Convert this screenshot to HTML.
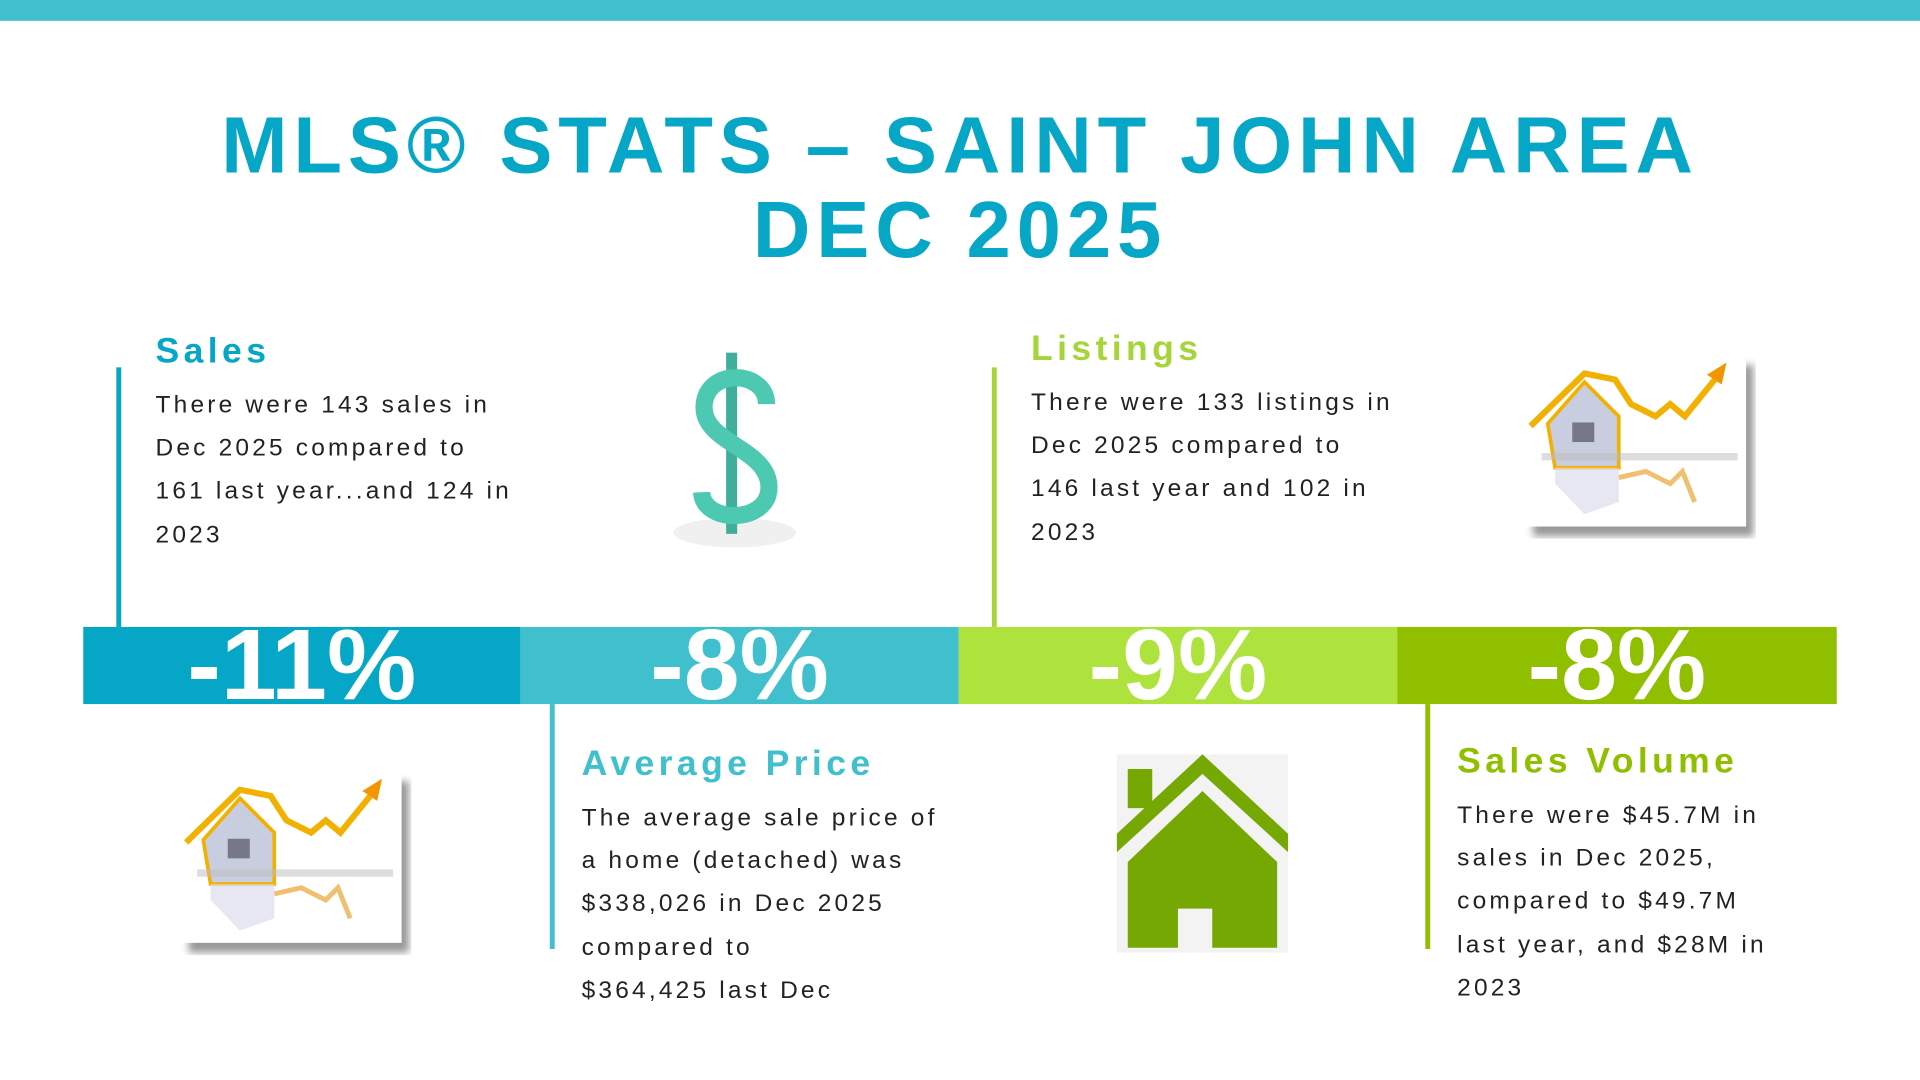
<!DOCTYPE html>
<html><head><meta charset="utf-8"><style>
html,body{margin:0;padding:0;background:#fff;overflow:hidden;width:1920px;height:1080px}
#w{position:absolute;left:0;top:0;width:1568px;height:882px;transform:scale(1.22449);transform-origin:0 0;font-family:"Liberation Sans",sans-serif}
.a{position:absolute}
.t{position:absolute;left:0;width:1568px;text-align:center;color:#06a6c6;font-weight:bold;font-size:65px;letter-spacing:4.8px;line-height:70px}
.h{position:absolute;font-weight:bold;font-size:29px;letter-spacing:3.6px;line-height:34px}
.b{position:absolute;font-size:20px;letter-spacing:2.6px;line-height:35.2px;color:#222}
.v{position:absolute;width:4px}
.seg{position:absolute;top:512px;height:63px;overflow:hidden;color:#fff;font-weight:bold;font-size:82px;text-align:center;line-height:63px}
.seg span{position:relative;top:0px;letter-spacing:0px}
</style></head><body><div id="w">
<div class="a" style="left:0;top:0;width:1568px;height:17px;background:#40bfcc"></div>
<div class="t" style="top:84px">MLS® STATS – SAINT JOHN AREA</div>
<div class="t" style="top:153px">DEC 2025</div>

<div class="v" style="left:95px;top:300px;height:212px;background:#06a6c6"></div>
<div class="h" style="left:127px;top:270px;color:#06a6c6">Sales</div>
<div class="b" style="left:127px;top:314px">There were 143 sales in<br>Dec 2025 compared to<br>161 last year...and 124 in<br>2023</div>

<div class="v" style="left:810px;top:300px;height:212px;background:#a6d53a"></div>
<div class="h" style="left:842px;top:268px;color:#a6d53a">Listings</div>
<div class="b" style="left:842px;top:312px">There were 133 listings in<br>Dec 2025 compared to<br>146 last year and 102 in<br>2023</div>

<svg class="a" style="left:540px;top:280px" width="120" height="175" viewBox="0 0 120 175">
<ellipse cx="60" cy="155" rx="50" ry="12" fill="#f0f0f0"/>
<rect x="53" y="8" width="9" height="148" fill="#3fae9a"/>
<path d="M86 50 C86 22 36 20 35 52 C34 82 88 86 88 118 C88 148 34 148 33 122" fill="none" stroke="#4cc9b0" stroke-width="14"/>
</svg>

<svg class="a" style="left:1244px;top:290px" width="190" height="150" viewBox="0 0 190 150">
<defs><filter id="s1"><feGaussianBlur stdDeviation="3"/></filter></defs>
<rect x="8" y="8" width="180" height="140" fill="#999" filter="url(#s1)"/>
<rect x="2" y="2" width="180" height="138" fill="#fff"/>
<polyline points="6,58 50,15 75,20 88,40 108,50 120,40 132,50 158,18" fill="none" stroke="#f2b100" stroke-width="5"/>
<polygon points="150,16 166,6 162,24" fill="#f29500"/>
<polygon points="20,56 50,22 78,50 78,92 26,92" fill="#c9cde0" stroke="#f2b100" stroke-width="3"/>
<rect x="40" y="55" width="18" height="16" fill="#778"/>
<rect x="15" y="80" width="160" height="6" fill="#bbb" opacity=".5"/>
<polygon points="26,92 78,92 78,120 50,130 26,105" fill="#dde" opacity=".7"/>
<polyline points="78,100 100,95 120,105 130,95 140,120" fill="none" stroke="#f0c070" stroke-width="4"/>
</svg>
<svg class="a" style="left:146px;top:630px" width="190" height="150" viewBox="0 0 190 150">
<rect x="8" y="8" width="180" height="140" fill="#999" filter="url(#s1)"/>
<rect x="2" y="2" width="180" height="138" fill="#fff"/>
<polyline points="6,58 50,15 75,20 88,40 108,50 120,40 132,50 158,18" fill="none" stroke="#f2b100" stroke-width="5"/>
<polygon points="150,16 166,6 162,24" fill="#f29500"/>
<polygon points="20,56 50,22 78,50 78,92 26,92" fill="#c9cde0" stroke="#f2b100" stroke-width="3"/>
<rect x="40" y="55" width="18" height="16" fill="#778"/>
<rect x="15" y="80" width="160" height="6" fill="#bbb" opacity=".5"/>
<polygon points="26,92 78,92 78,120 50,130 26,105" fill="#dde" opacity=".7"/>
<polyline points="78,100 100,95 120,105 130,95 140,120" fill="none" stroke="#f0c070" stroke-width="4"/>
</svg>

<div class="seg" style="left:68px;width:357px;background:#06a6c6"><span>-11%</span></div>
<div class="seg" style="left:425px;width:358px;background:#40bfcc"><span>-8%</span></div>
<div class="seg" style="left:783px;width:358px;background:#aee23c"><span>-9%</span></div>
<div class="seg" style="left:1141px;width:359px;background:#90bf00"><span>-8%</span></div>

<div class="v" style="left:449px;top:575px;height:200px;background:#40bfcc"></div>
<div class="h" style="left:475px;top:607px;color:#40bfcc">Average Price</div>
<div class="b" style="left:475px;top:651px">The average sale price of<br>a home (detached) was<br>$338,026 in Dec 2025<br>compared to<br>$364,425 last Dec</div>

<svg class="a" style="left:912px;top:616px" width="140" height="162" viewBox="0 0 140 162">
<rect width="140" height="162" fill="#f3f3f3"/>
<rect x="9" y="12" width="20" height="32" fill="#76a804"/>
<polygon points="0,65 70,0 140,65 140,80 70,16 0,80" fill="#76a804"/>
<polygon points="9,88 70,30 131,88 131,158 78,158 78,126 50,126 50,158 9,158" fill="#76a804"/>
</svg>

<div class="v" style="left:1164px;top:575px;height:200px;background:#90bf00"></div>
<div class="h" style="left:1190px;top:605px;color:#90bf00">Sales Volume</div>
<div class="b" style="left:1190px;top:649px">There were $45.7M in<br>sales in Dec 2025,<br>compared to $49.7M<br>last year, and $28M in<br>2023</div>
</div></body></html>
